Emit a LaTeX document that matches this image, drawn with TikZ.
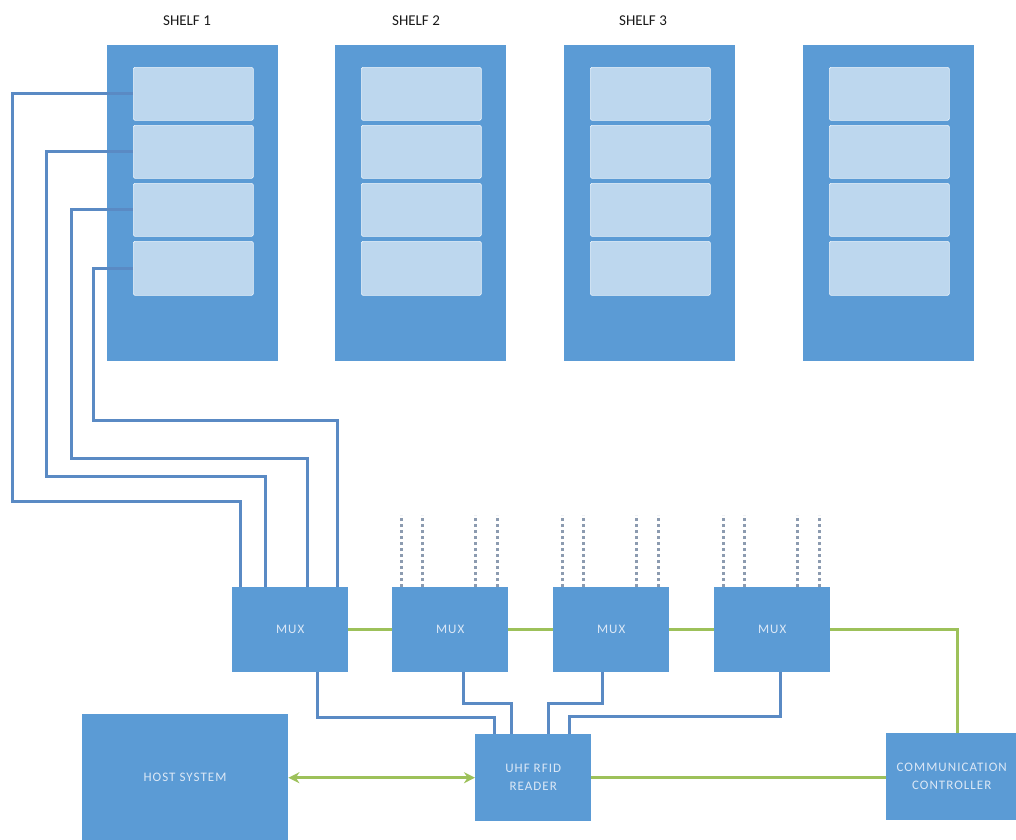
\documentclass[tikz,border=0pt]{standalone}
\usepackage{fontspec}
\setmainfont{Carlito}
\newfontfamily\boxfont[LetterSpace=8]{Carlito}
\usetikzlibrary{calc,arrows.meta}
\definecolor{shelfblue}{HTML}{5B9BD5}
\definecolor{slotblue}{HTML}{BDD7EE}
\definecolor{wireblue}{HTML}{5A8AC4}
\definecolor{linkgreen}{HTML}{9DC15A}
\definecolor{boxtext}{HTML}{DCE8F6}
\definecolor{dashgray}{HTML}{8C9BB0}
\tikzset{
  shelfbox/.style={draw=none,fill=shelfblue,inner sep=0pt,anchor=north west,minimum width=171pt},
  slotbox/.style={draw=white!70!slotblue,line width=0.6pt,fill=slotblue,rounded corners=1.5pt,inner sep=0pt,anchor=north west,minimum width=120pt},
  unit/.style={fill=shelfblue,draw=none,inner sep=0pt,anchor=north west,text=boxtext,font=\boxfont\fontsize{13}{18}\selectfont,align=center},
  shelflabel/.style={font=\fontsize{15}{17}\selectfont,text=black!90},
  wire/.style={draw=wireblue,line width=3pt},
  glink/.style={draw=linkgreen,line width=3pt},
  dashwire/.style={draw=dashgray,line width=3pt,dash pattern=on 3pt off 3pt},
}
\begin{document}
\begin{tikzpicture}[x=1pt,y=-1pt]
\useasboundingbox (0,0) rectangle (1016,839);
% shelf labels
\node[shelflabel] (l1) at (187,21) {SHELF 1};
\node[shelflabel] (l2) at (416,21) {SHELF 2};
\node[shelflabel] (l3) at (643,21) {SHELF 3};
% shelves
\foreach \n/\x in {1/107,2/335,3/564,4/803}{
  \node[shelfbox,minimum height=316pt] (sh\n) at (\x,45) {};
  \node[slotbox,minimum height=53pt] (sh\n a) at (\x+26,67) {};
  \node[slotbox,minimum height=53pt] (sh\n b) at (\x+26,125) {};
  \node[slotbox,minimum height=53pt] (sh\n c) at (\x+26,183) {};
  \node[slotbox,minimum height=54pt] (sh\n d) at (\x+26,241) {};
}
% mux units
\node[unit,minimum width=116pt,minimum height=85pt] (mux1) at (232,587) {MUX};
\node[unit,minimum width=116pt,minimum height=85pt] (mux2) at (392,587) {MUX};
\node[unit,minimum width=116pt,minimum height=85pt] (mux3) at (553,587) {MUX};
\node[unit,minimum width=116pt,minimum height=85pt] (mux4) at (714,587) {MUX};
% host, reader, controller
\node[unit,minimum width=206pt,minimum height=130pt] (host) at (82,714) {};
\node[text=boxtext,font=\boxfont\fontsize{13}{18}\selectfont] (hostlabel) at (185,777) {HOST SYSTEM};
\node[unit,minimum width=116pt,minimum height=87pt] (reader) at (475,734) {UHF RFID\\READER};
\node[unit,minimum width=131pt,minimum height=87pt] (comm) at (886,733) {COMMUNICATION\\CONTROLLER};
% mux1 input ports
\coordinate (m1p1) at ($(mux1.north west)+(8,0)$);
\coordinate (m1p2) at ($(mux1.north west)+(33,0)$);
\coordinate (m1p3) at ($(mux1.north west)+(75,0)$);
\coordinate (m1p4) at ($(mux1.north west)+(105,0)$);
% shelf 1 slots to mux1
\draw[wire] (sh1a.west) -| (12,501) -| (m1p1);
\draw[wire] (sh1b.west) -| (46,476) -| (m1p2);
\draw[wire] (sh1c.west) -| (71,458) -| (m1p3);
\draw[wire] (sh1d.west) -| (93,420) -| (m1p4);
% dashed inputs on mux 2-4
\foreach \m in {mux2,mux3,mux4}{
  \foreach \o in {9,30,83,105}{
    \coordinate (\m top\o) at ($(\m.north west)+(\o,-72)$);
    \draw[dashwire] ($(\m.north west)+(\o,0)$) -- (\m top\o);
  }
}
% green chain
\draw[glink] (mux1.east) -- (mux2.west);
\draw[glink] (mux2.east) -- (mux3.west);
\draw[glink] (mux3.east) -- (mux4.west);
\draw[glink] (mux4.east) -| ($(comm.north)+(6,0)$);
\draw[glink] (reader.east) -- (reader.east -| comm.west);
\draw[glink,{Stealth[length=11pt,width=11pt]}-{Stealth[length=11pt,width=11pt]}] (host.east |- reader.west) -- (reader.west);
% mux to reader
\draw[wire] ($(mux1.south west)+(85,0)$) -- ++(0,45) -| ($(reader.north west)+(19,0)$);
\draw[wire] ($(mux2.south west)+(71,0)$) -- ++(0,31) -| ($(reader.north west)+(36,0)$);
\draw[wire] ($(mux3.south west)+(49,0)$) -- ++(0,31) -| ($(reader.north west)+(73,0)$);
\draw[wire] ($(mux4.south west)+(66,0)$) -- ++(0,44) -| ($(reader.north west)+(94,0)$);
\end{tikzpicture}
\end{document}
